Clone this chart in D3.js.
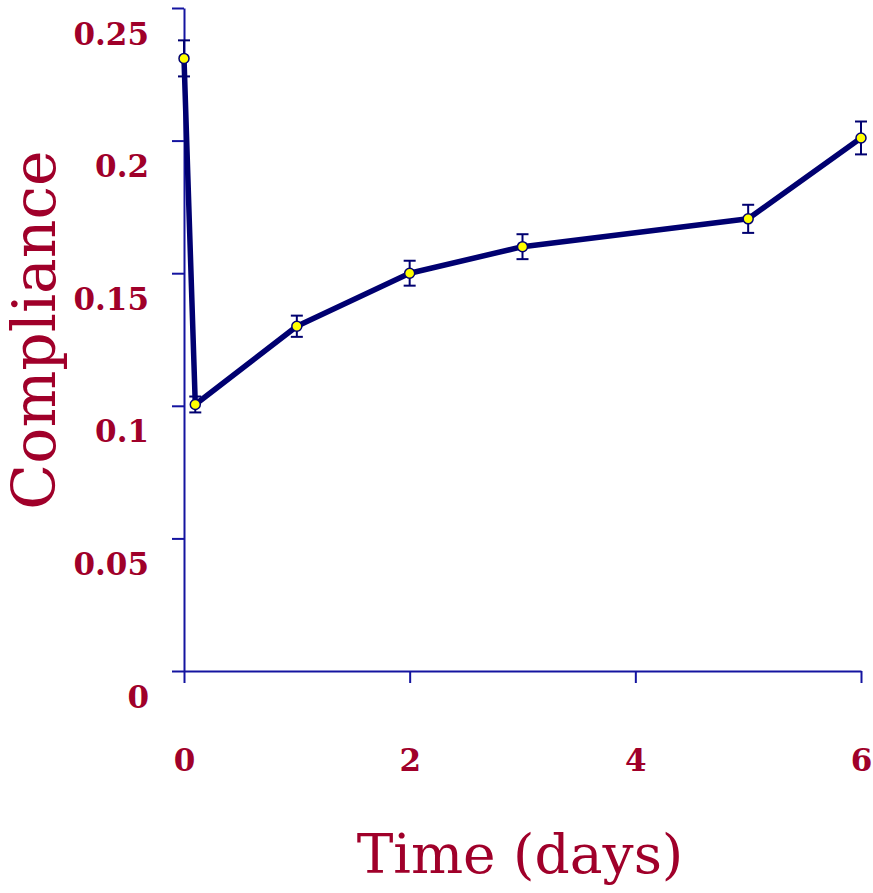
<!DOCTYPE html>
<meta charset="utf-8">
<html>
<style>
body { margin: 0; background: #fff; }
.axis path, .axis line { stroke: #1414a0; stroke-width: 2px; fill: none; }
.axis text { fill: #a0002a; font-family: "DejaVu Serif", serif; font-weight: bold; font-size: 31px; }
.title { fill: #a0002a; font-family: "DejaVu Serif", serif; }
</style>
<body>
<script src="https://cdn.jsdelivr.net/npm/d3@7"></script>
<script>

// data
var time = [0, 0.1, 1, 2, 3, 5, 6];
var compliance = [0.231, 0.1005, 0.130, 0.150, 0.160, 0.1705, 0.201];
var errors = [0.0068, 0.003, 0.004, 0.0047, 0.0047, 0.0053, 0.0062];
var xTicks = [0, 2, 4, 6];
var yTicks = [0, 0.05, 0.1, 0.15, 0.2, 0.25];
var yLabels = ["0", "0.05", "0.1", "0.15", "0.2", "0.25"];

var width = 873, height = 893;

var svg = d3.select("body").append("svg")
    .attr("width", width)
    .attr("height", height);

var x = d3.scaleLinear().domain([0, 6]).range([184, 861]);
var y = d3.scaleLinear().domain([0, 0.25]).range([671, 8]);

var points = time.map(function(t, i) {
  return {t: t, v: compliance[i], e: errors[i]};
});

// axes
var yAxis = svg.append("g").attr("class", "axis")
    .attr("transform", "translate(184,0)")
    .call(d3.axisLeft(y).tickValues(yTicks).tickSize(12).tickSizeOuter(0)
      .tickFormat(function(d, i) { return yLabels[i]; }));
yAxis.selectAll("text").attr("x", -35).attr("dy", 36);

var xAxis = svg.append("g").attr("class", "axis")
    .attr("transform", "translate(0,671)")
    .call(d3.axisBottom(x).tickValues(xTicks).tickSize(12).tickSizeOuter(0)
      .tickFormat(d3.format("d")));
xAxis.selectAll("text").attr("y", 100).attr("dy", 0);

// error bars
var eb = svg.append("g").selectAll("g").data(points).enter().append("g")
    .attr("stroke", "#000070").attr("stroke-width", 2);
eb.append("line")
    .attr("x1", d => x(d.t)).attr("x2", d => x(d.t))
    .attr("y1", d => y(d.v - d.e)).attr("y2", d => y(d.v + d.e));
eb.append("line")
    .attr("x1", d => x(d.t) - 6).attr("x2", d => x(d.t) + 6)
    .attr("y1", d => y(d.v - d.e)).attr("y2", d => y(d.v - d.e));
eb.append("line")
    .attr("x1", d => x(d.t) - 6).attr("x2", d => x(d.t) + 6)
    .attr("y1", d => y(d.v + d.e)).attr("y2", d => y(d.v + d.e));

// line
var line = d3.line().x(d => x(d.t)).y(d => y(d.v));
svg.append("path")
    .datum(points)
    .attr("d", line)
    .attr("fill", "none")
    .attr("stroke", "#000070")
    .attr("stroke-width", 5.5)
    .attr("stroke-linejoin", "round");

// markers
svg.append("g").selectAll("circle").data(points).enter().append("circle")
    .attr("cx", d => x(d.t)).attr("cy", d => y(d.v))
    .attr("r", 5)
    .attr("fill", "#ffff00")
    .attr("stroke", "#000070")
    .attr("stroke-width", 1.5);

// titles
svg.append("text").attr("class", "title")
    .attr("transform", "translate(55,330) rotate(-90)")
    .attr("text-anchor", "middle")
    .attr("font-size", 60)
    .text("Compliance");

svg.append("text").attr("class", "title")
    .attr("x", 520).attr("y", 873)
    .attr("text-anchor", "middle")
    .attr("font-size", 55)
    .text("Time (days)");

</script>
</body>
</html>
